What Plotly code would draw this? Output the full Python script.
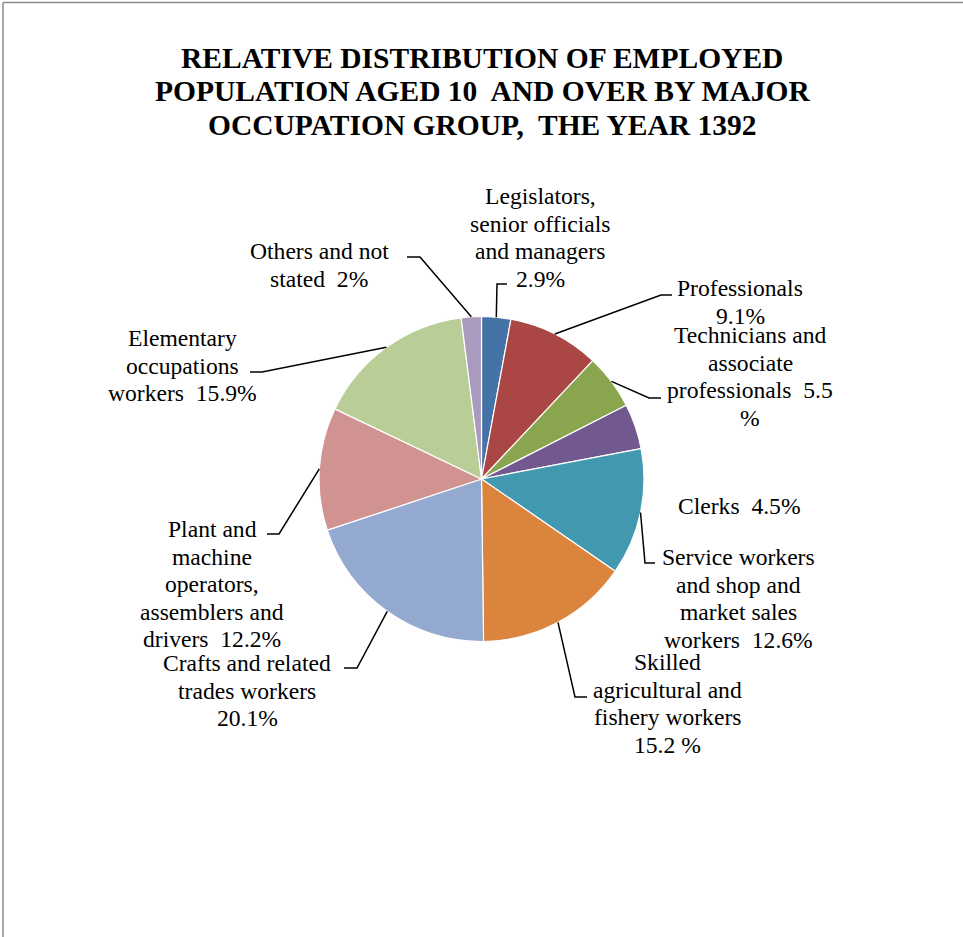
import math
import plotly.graph_objects as go

W, H = 963, 937

# Occupation groups, clockwise from 12 o'clock
groups = [
    "Legislators, senior officials and managers",
    "Professionals",
    "Technicians and associate professionals",
    "Clerks",
    "Service workers and shop and market sales workers",
    "Skilled agricultural and fishery workers",
    "Crafts and related trades workers",
    "Plant and machine operators, assemblers and drivers",
    "Elementary occupations workers",
    "Others and not stated",
]
shares = [2.9, 9.1, 5.5, 4.5, 12.6, 15.2, 20.1, 12.2, 15.9, 2.0]
colors = ["#4572A7", "#AA4643", "#89A54E", "#71588F", "#4198AF",
          "#DB843D", "#93A9CF", "#D19392", "#B9CD96", "#A99BBD"]

# Label text per slice, {v} is replaced with the slice's share
label_templates = [
    ["Legislators,", "senior officials", "and managers", "{v}%"],
    ["Professionals", "{v}%"],
    ["Technicians and", "associate", "professionals\u00a0 {v}", "%"],
    ["Clerks\u00a0 {v}%"],
    ["Service workers", "and shop and", "market sales", "workers\u00a0 {v}%"],
    ["Skilled", "agricultural and", "fishery workers", "{v} %"],
    ["Crafts and related", "trades workers", "{v}%"],
    ["Plant and", "machine", "operators,", "assemblers and", "drivers\u00a0 {v}%"],
    ["Elementary", "occupations", "workers\u00a0 {v}%"],
    ["Others and not", "stated\u00a0 {v}%"],
]

title_lines = [
    "RELATIVE DISTRIBUTION OF EMPLOYED",
    "POPULATION AGED 10\u00a0 AND OVER BY MAJOR",
    "OCCUPATION GROUP,\u00a0 THE YEAR 1392",
]

# ---- layout constants (pixels) ----
CX, CY, R = 481.5, 479.0, 162.5
LINE_GAP = 27.5
FONT = "Liberation Serif, Times New Roman, serif"

# label block: centre x, first line centre y
label_pos = [(540, 196), (740, 288), (750, 335), (739, 506), (738, 557),
             (667, 662), (247, 663), (212, 529), (182, 338), (319, 251)]
# leader line elbow and end points (None = no leader)
leader_pts = [
    ((497, 284), (507, 284)),
    ((661, 295), (672, 295)),
    ((649, 398), (661, 398)),
    None,
    ((645, 563), (655, 563)),
    ((575, 697), (587, 697)),
    ((357, 668), (344, 668)),
    ((279, 534), (267, 534)),
    ((262, 372), (250, 372)),
    ((420, 257), (407, 257)),
]


def px(x):
    return x / W


def py(y):
    return 1 - y / H


fig = go.Figure(go.Pie(
    labels=groups,
    values=shares,
    sort=False,
    direction="clockwise",
    rotation=0,
    marker=dict(colors=colors, line=dict(color="white", width=1.2)),
    textinfo="none",
    hoverinfo="label+percent",
    showlegend=False,
    domain=dict(x=[px(CX - R), px(CX + R)], y=[py(CY + R), py(CY - R)]),
))

annotations = []
for i, line in enumerate(title_lines):
    annotations.append(dict(
        text=line, x=px(482), y=py(57.5 + i * 33.5), xref="paper", yref="paper",
        xanchor="center", yanchor="middle", showarrow=False,
        font=dict(family=FONT, size=29.5, color="black", weight="bold"),
    ))

shapes = []
total = sum(shares)
cum = 0.0
for k, v in enumerate(shares):
    mid = (cum + v / 2) / total * 2 * math.pi
    cum += v
    vtxt = f"{v:g}"
    lx, ly = label_pos[k]
    for j, t in enumerate(label_templates[k]):
        annotations.append(dict(
            text=t.replace("{v}", vtxt), x=px(lx), y=py(ly + j * LINE_GAP),
            xref="paper", yref="paper", xanchor="center", yanchor="middle",
            showarrow=False, font=dict(family=FONT, size=23.6, color="black"),
        ))
    if leader_pts[k] is not None:
        sx = CX + R * math.sin(mid)
        sy = CY - R * math.cos(mid)
        (ex, ey), (fx, fy) = leader_pts[k]
        path = (f"M {px(sx)},{py(sy)} L {px(ex)},{py(ey)} L {px(fx)},{py(fy)}")
        shapes.append(dict(type="path", path=path, xref="paper", yref="paper",
                           line=dict(color="black", width=1.5)))

# chart frame (top and left edges)
shapes.append(dict(type="line", xref="paper", yref="paper",
                   x0=px(3), y0=py(2.5), x1=1, y1=py(2.5),
                   line=dict(color="#8a8a8a", width=1.5)))
shapes.append(dict(type="line", xref="paper", yref="paper",
                   x0=px(3), y0=py(2.5), x1=px(3), y1=0,
                   line=dict(color="#8a8a8a", width=1.5)))

fig.update_layout(
    width=W, height=H,
    margin=dict(l=0, r=0, t=0, b=0),
    paper_bgcolor="white", plot_bgcolor="white",
    annotations=annotations, shapes=shapes,
)

fig.write_html("out.html")
